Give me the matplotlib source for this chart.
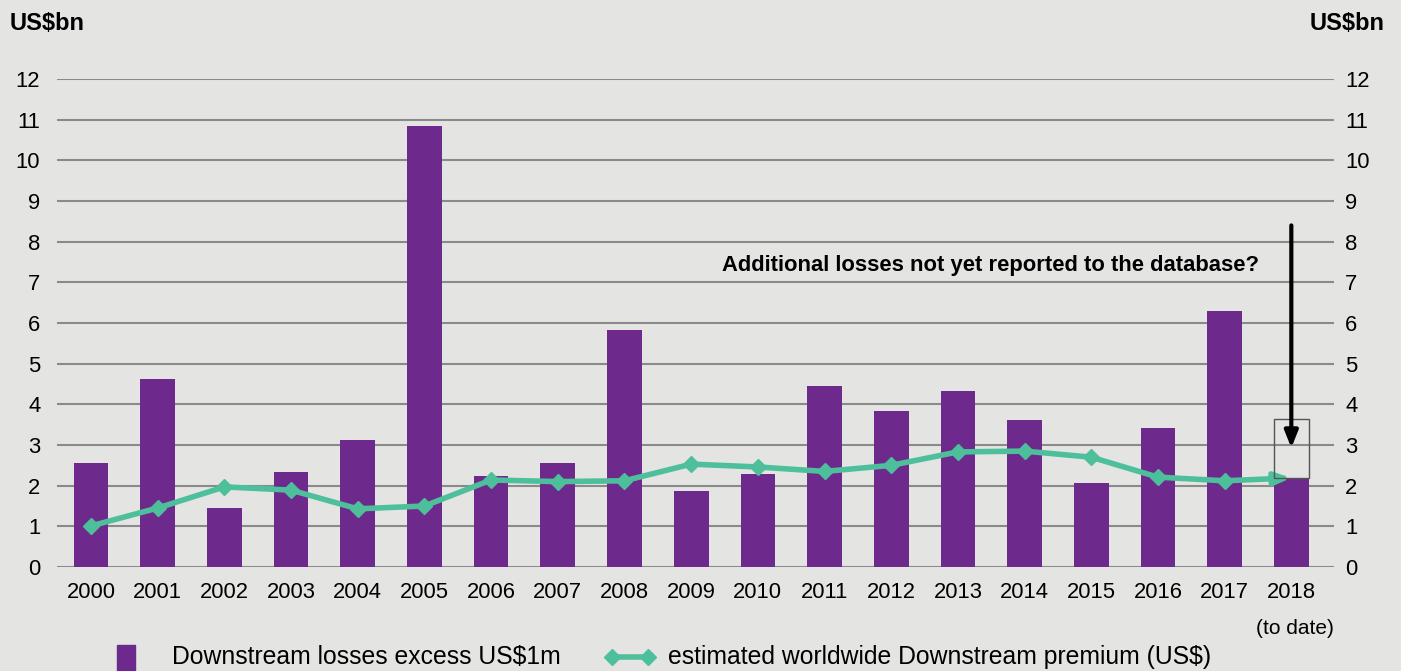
import matplotlib.pyplot as plt
from matplotlib.patches import Rectangle

plt.rcParams['font.family'] = ['Liberation Sans', 'DejaVu Sans']

years = ['2000', '2001', '2002', '2003', '2004', '2005', '2006', '2007', '2008', '2009',
         '2010', '2011', '2012', '2013', '2014', '2015', '2016', '2017', '2018']
losses = [2.56, 4.62, 1.45, 2.34, 3.12, 10.84, 2.24, 2.56, 5.83, 1.87,
          2.29, 4.45, 3.84, 4.33, 3.61, 2.07, 3.42, 6.29, 2.19]
premium = [1.01, 1.45, 1.97, 1.89, 1.43, 1.50, 2.14, 2.10, 2.12, 2.53,
           2.46, 2.35, 2.50, 2.83, 2.85, 2.70, 2.21, 2.12, 2.19]
# possible extra losses for 2018 not yet reported
box_top_2018 = 3.63
y_ticks = list(range(0, 13))

bg = '#e4e4e3'
purple = '#6d2a8c'
teal = '#4dbf9b'

fig = plt.figure(figsize=(14.01, 6.71), dpi=100, facecolor=bg)
ax = fig.add_axes([57 / 1401, 1 - 567 / 671, (1334 - 57) / 1401, (567 - 79) / 671])
ax.set_facecolor(bg)

x = list(range(len(years)))
ax.set_xlim(-0.51, 18.64)
ax.set_ylim(0, 12)

for y in y_ticks:
    ax.axhline(y, color='#8a8a8a', lw=1.5, zorder=0)

ax.bar(x, losses, width=0.52, color=purple, zorder=2)

# premium line: markers up to 2017, arrow into 2018
ax.plot(x[:-1], premium[:-1], color=teal, lw=4, marker='D', ms=8.5, zorder=3)
ax.annotate('', xy=(x[-1], premium[-1]), xytext=(x[-2], premium[-2]),
            arrowprops=dict(arrowstyle='-|>,head_length=0.9,head_width=0.35', color=teal, lw=4,
                            shrinkA=0, shrinkB=0), zorder=3)

ax.add_patch(Rectangle((x[-1] - 0.26, losses[-1]), 0.52, box_top_2018 - losses[-1],
                       fill=False, edgecolor='#555555', lw=1, zorder=3))

ax.annotate('', xy=(x[-1], 2.93), xytext=(x[-1], 8.4),
            arrowprops=dict(arrowstyle='-|>,head_length=1.0,head_width=0.4', color='black', lw=3,
                            shrinkA=0, shrinkB=0), zorder=4)
ax.text(17.52, 7.41, 'Additional losses not yet reported to the database?', ha='right', va='center',
        fontsize=15.8, fontweight='bold')

ax.set_xticks(x)
ax.set_xticklabels(years, fontsize=15.8)
ax.set_yticks(y_ticks)
ax.set_yticklabels([str(v) for v in y_ticks], fontsize=15.8)
ax.tick_params(axis='both', length=0)
ax.tick_params(axis='y', pad=12)
ax.tick_params(axis='x', pad=11)
ax.text(x[-1] + 0.06, -1.5, '(to date)', ha='center', va='center', fontsize=15)

# right-hand scale repeats the left one
ax2 = ax.twinx()
ax2.set_ylim(ax.get_ylim())
ax2.set_yticks(y_ticks)
ax2.set_yticklabels([str(v) for v in y_ticks], fontsize=15.8)
ax2.tick_params(axis='y', length=0, pad=8)

for a in (ax, ax2):
    for s in a.spines.values():
        s.set_visible(False)

fig.text(10 / 1401, 1 - 23 / 671, 'US$bn', ha='left', va='center', fontsize=17, fontweight='bold')
fig.text(1385 / 1401, 1 - 23 / 671, 'US$bn', ha='right', va='center', fontsize=17, fontweight='bold')

# legend drawn by hand along the bottom edge
fig.patches.append(Rectangle((117 / 1401, 0), 18 / 1401, 26 / 671, transform=fig.transFigure,
                             color=purple))
fig.text(172 / 1401, 1 - 657 / 671, 'Downstream losses excess US$1m', ha='left', va='center',
         fontsize=17.8)
fig.lines.append(plt.Line2D([612 / 1401, 648 / 1401], [1 - 657 / 671] * 2, transform=fig.transFigure,
                            color=teal, lw=4, marker='D', ms=8.5, markevery=[0, 1]))
fig.text(668 / 1401, 1 - 657 / 671, 'estimated worldwide Downstream premium (US$)', ha='left',
         va='center', fontsize=17.8)

fig.savefig('out.png', dpi=100, facecolor=bg)
